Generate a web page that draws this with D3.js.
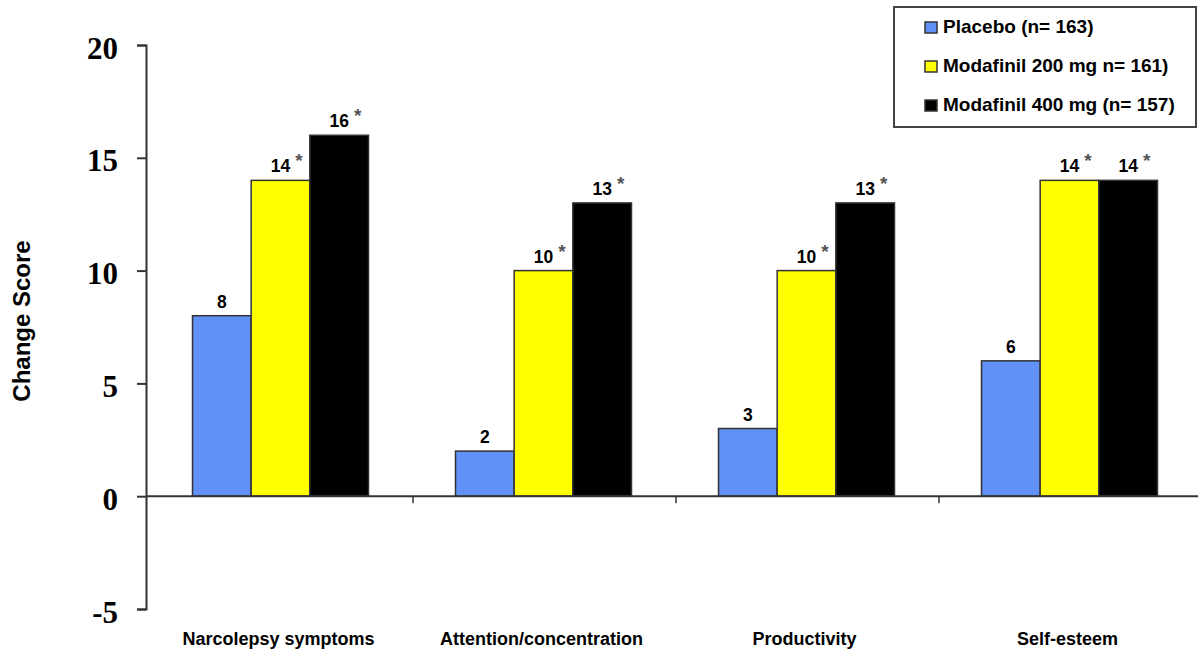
<!DOCTYPE html>
<html>
<head>
<meta charset="utf-8">
<script src="https://cdn.jsdelivr.net/npm/d3@7"></script>
<style>
  html, body { margin: 0; padding: 0; background: #fff; }
  svg { display: block; }
  text { font-family: "Liberation Sans", Arial, sans-serif; font-weight: bold; fill: #000; }
</style>
</head>
<body>
<svg id="chart" width="1198" height="652"></svg>
<script>
// Outcome measures along the x axis
const categories = ["Narcolepsy symptoms", "Attention/concentration", "Productivity", "Self-esteem"];
// Treatment groups
const seriesNames = ["Placebo (n= 163)", "Modafinil 200 mg n= 161)", "Modafinil 400 mg (n= 157)"];
const seriesColors = ["#6190f7", "#ffff00", "#000000"];
// Mean change scores per group
const placebo = [8, 2, 3, 6];
const modafinil200 = [14, 10, 10, 14];
const modafinil400 = [16, 13, 13, 14];
// Significance markers per group
const significant = [false, true, true];
const yTicks = [-5, 0, 5, 10, 15, 20];

const values = [placebo, modafinil200, modafinil400];

const svg = d3.select("#chart");
const axisX = 146;
const y = d3.scaleLinear().domain([-5, 20]).range([609, 45]);
const x0 = d3.scaleBand().domain(categories).range([150, 1202]).paddingInner(0).paddingOuter(0);
const groupW = 176;
const x1 = d3.scaleBand().domain(d3.range(seriesNames.length)).range([0, groupW]);

// Bars
categories.forEach((cat, ci) => {
  const gx = x0(cat) + (x0.bandwidth() - groupW) / 2 - 1;
  values.forEach((arr, si) => {
    const v = arr[ci];
    svg.append("rect")
      .attr("x", gx + x1(si))
      .attr("y", y(Math.max(v, 0)))
      .attr("width", x1.bandwidth())
      .attr("height", Math.abs(y(v) - y(0)))
      .attr("fill", seriesColors[si])
      .attr("stroke", "#333")
      .attr("stroke-width", 1.5);
  });
});

// Value labels with significance asterisks
categories.forEach((cat, ci) => {
  const gx = x0(cat) + (x0.bandwidth() - groupW) / 2 - 1;
  values.forEach((arr, si) => {
    const v = arr[ci];
    const cx = gx + x1(si) + x1.bandwidth() / 2;
    const by = y(v) - 8;
    const t = svg.append("text")
      .attr("x", cx)
      .attr("y", by)
      .attr("text-anchor", "middle")
      .style("font-size", "17.5px")
      .text(v);
    if (significant[si]) {
      const w = t.node().getComputedTextLength();
      svg.append("text")
        .attr("x", cx + w / 2 + 5)
        .attr("y", by - 5)
        .style("font-size", "19px")
        .style("fill", "#555")
        .text("*");
    }
  });
});

// Zero line and category boundary ticks
svg.append("line")
  .attr("x1", axisX).attr("x2", 1198)
  .attr("y1", y(0)).attr("y2", y(0))
  .attr("stroke", "#333").attr("stroke-width", 2);
categories.slice(1).forEach(cat => {
  const tx = x0(cat);
  svg.append("line")
    .attr("x1", tx).attr("x2", tx)
    .attr("y1", y(0)).attr("y2", y(0) + 7)
    .attr("stroke", "#333").attr("stroke-width", 1.5);
});

// Y axis
const yAxis = d3.axisLeft(y).tickValues(yTicks).tickFormat(d => String(d)).tickSize(9).tickPadding(19);
const gy = svg.append("g").attr("transform", `translate(${axisX},0)`).call(yAxis);
gy.select(".domain").attr("stroke", "#333").attr("stroke-width", 2);
gy.selectAll(".tick line").attr("stroke", "#333").attr("stroke-width", 2);
gy.selectAll(".tick text")
  .attr("dy", "0.42em")
  .style("font-family", "'Liberation Serif', 'Times New Roman', serif")
  .style("font-weight", "bold")
  .style("font-size", "31px")
  .style("fill", "#000");

// Y axis title
svg.append("text")
  .attr("transform", "translate(30,321) rotate(-90)")
  .attr("text-anchor", "middle")
  .style("font-size", "24px")
  .text("Change Score");

// Category labels
categories.forEach(cat => {
  svg.append("text")
    .attr("x", x0(cat) + x0.bandwidth() / 2 - 3)
    .attr("y", 645)
    .attr("text-anchor", "middle")
    .style("font-size", "18px")
    .text(cat);
});

// Legend
const lg = svg.append("g");
lg.append("rect")
  .attr("x", 894).attr("y", 7).attr("width", 302).attr("height", 120)
  .attr("fill", "#fff").attr("stroke", "#444").attr("stroke-width", 2);
seriesNames.forEach((name, i) => {
  const base = 33 + i * 39;
  lg.append("rect")
    .attr("x", 925).attr("y", base - 11).attr("width", 12).attr("height", 11)
    .attr("fill", seriesColors[i]).attr("stroke", "#333").attr("stroke-width", 1.5);
  lg.append("text")
    .attr("x", 943).attr("y", base)
    .style("font-size", "19px")
    .text(name);
});
</script>
</body>
</html>
